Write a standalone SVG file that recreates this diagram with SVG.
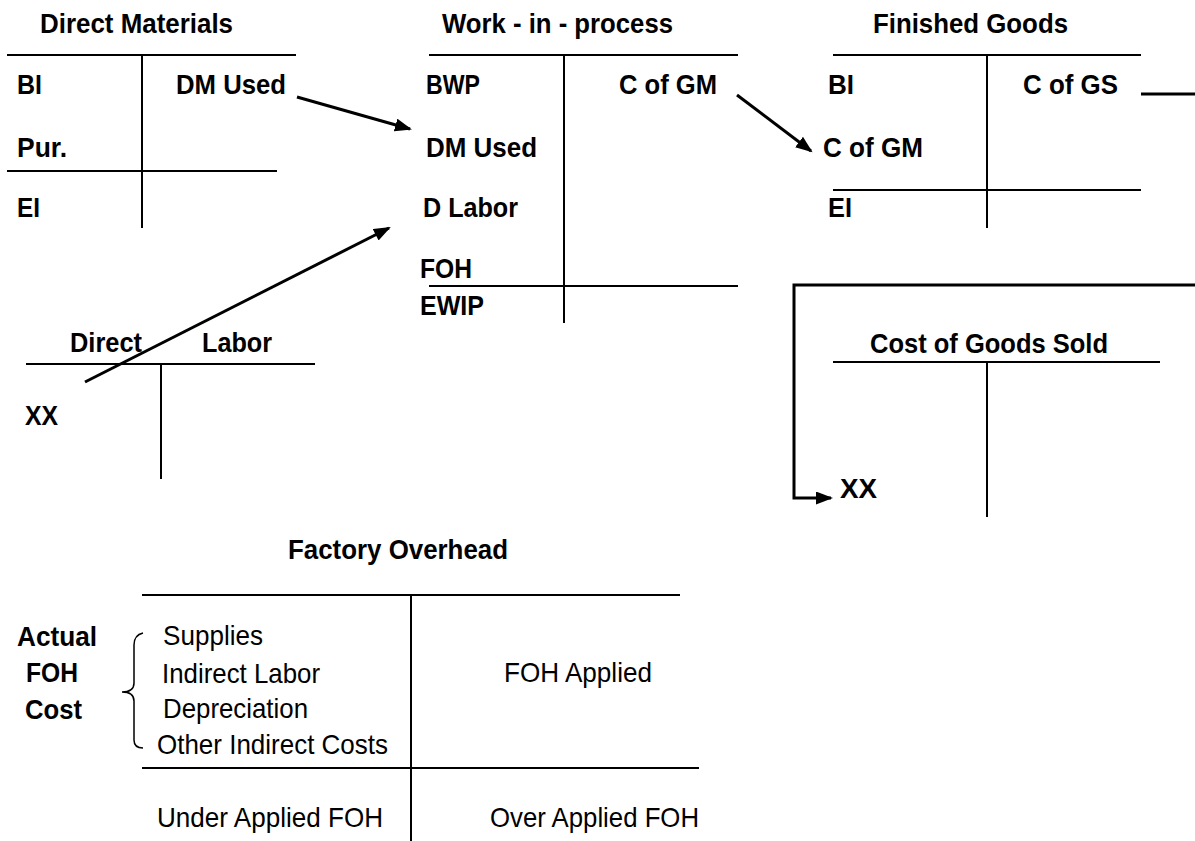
<svg xmlns="http://www.w3.org/2000/svg" width="1195" height="841" viewBox="0 0 1195 841">
<style>
.b{font-family:"Liberation Sans",Arial,sans-serif;font-weight:bold;font-size:28px;fill:#000}
.r{font-family:"Liberation Sans",Arial,sans-serif;font-size:28px;fill:#000}
.t{stroke:#000;stroke-width:2;fill:none}
.a{stroke:#000;stroke-width:3;fill:none}
</style>
<defs>
<marker id="ah" markerUnits="userSpaceOnUse" markerWidth="18" markerHeight="14" refX="15" refY="6.5" orient="auto">
<path d="M0,0 L17,6.5 L0,13 z" fill="#000"/>
</marker>
</defs>
<rect width="1195" height="841" fill="#fff"/>

<g id="direct-materials">
<text class="b" x="40" y="33" textLength="193" lengthAdjust="spacingAndGlyphs">Direct Materials</text>
<line class="t" x1="7" y1="55" x2="296" y2="55"/>
<line class="t" x1="142" y1="55" x2="142" y2="228"/>
<line class="t" x1="7" y1="171" x2="277" y2="171"/>
<text class="b" x="17" y="94" textLength="25" lengthAdjust="spacingAndGlyphs">BI</text>
<text class="b" x="176" y="94" textLength="110" lengthAdjust="spacingAndGlyphs">DM Used</text>
<text class="b" x="17" y="157" textLength="50" lengthAdjust="spacingAndGlyphs">Pur.</text>
<text class="b" x="17" y="217" textLength="23" lengthAdjust="spacingAndGlyphs">EI</text>
</g>

<g id="work-in-process">
<text class="b" x="442" y="33" textLength="231" lengthAdjust="spacingAndGlyphs">Work - in - process</text>
<line class="t" x1="429" y1="55" x2="738" y2="55"/>
<line class="t" x1="564" y1="55" x2="564" y2="323"/>
<line class="t" x1="429" y1="286" x2="738" y2="286"/>
<text class="b" x="426" y="94" textLength="54" lengthAdjust="spacingAndGlyphs">BWP</text>
<text class="b" x="619" y="94" textLength="98" lengthAdjust="spacingAndGlyphs">C of GM</text>
<text class="b" x="426" y="157" textLength="111" lengthAdjust="spacingAndGlyphs">DM Used</text>
<text class="b" x="423" y="217" textLength="95" lengthAdjust="spacingAndGlyphs">D Labor</text>
<text class="b" x="420" y="278" textLength="52" lengthAdjust="spacingAndGlyphs">FOH</text>
<text class="b" x="420" y="315" textLength="64" lengthAdjust="spacingAndGlyphs">EWIP</text>
</g>

<g id="finished-goods">
<text class="b" x="873" y="33" textLength="195" lengthAdjust="spacingAndGlyphs">Finished Goods</text>
<line class="t" x1="833" y1="55" x2="1141" y2="55"/>
<line class="t" x1="987" y1="55" x2="987" y2="228"/>
<line class="t" x1="833" y1="190" x2="1141" y2="190"/>
<text class="b" x="828" y="94" textLength="26" lengthAdjust="spacingAndGlyphs">BI</text>
<text class="b" x="1023" y="94" textLength="95" lengthAdjust="spacingAndGlyphs">C of GS</text>
<text class="b" x="823" y="157" textLength="100" lengthAdjust="spacingAndGlyphs">C of GM</text>
<text class="b" x="828" y="217" textLength="24" lengthAdjust="spacingAndGlyphs">EI</text>
</g>

<g id="direct-labor">
<text class="b" x="70" y="352" textLength="72" lengthAdjust="spacingAndGlyphs">Direct</text>
<text class="b" x="202" y="352" textLength="70" lengthAdjust="spacingAndGlyphs">Labor</text>
<line class="t" x1="26" y1="364" x2="315" y2="364"/>
<line class="t" x1="161" y1="364" x2="161" y2="479"/>
<text class="b" x="25" y="425" textLength="33" lengthAdjust="spacingAndGlyphs">XX</text>
</g>

<g id="cost-of-goods-sold">
<text class="b" x="870" y="353" textLength="238" lengthAdjust="spacingAndGlyphs">Cost of Goods Sold</text>
<line class="t" x1="833" y1="362" x2="1160" y2="362"/>
<line class="t" x1="987" y1="362" x2="987" y2="517"/>
<text class="b" x="840" y="498" textLength="37" lengthAdjust="spacingAndGlyphs">XX</text>
</g>

<g id="factory-overhead">
<text class="b" x="288" y="559" textLength="220" lengthAdjust="spacingAndGlyphs">Factory Overhead</text>
<line class="t" x1="142" y1="595" x2="680" y2="595"/>
<line class="t" x1="411" y1="595" x2="411" y2="841"/>
<line class="t" x1="142" y1="768" x2="699" y2="768"/>
<text class="b" x="17" y="646" textLength="80" lengthAdjust="spacingAndGlyphs">Actual</text>
<text class="b" x="26" y="682" textLength="52" lengthAdjust="spacingAndGlyphs">FOH</text>
<text class="b" x="25" y="719" textLength="57" lengthAdjust="spacingAndGlyphs">Cost</text>
<path d="M143,633 Q134,635 134,645 L134,683 Q134,692 122,692 Q134,692 134,701 L134,740 Q134,748 143,748" fill="none" stroke="#000" stroke-width="1.5"/>
<text class="r" x="163" y="645" textLength="100" lengthAdjust="spacingAndGlyphs">Supplies</text>
<text class="r" x="162" y="683" textLength="158" lengthAdjust="spacingAndGlyphs">Indirect Labor</text>
<text class="r" x="163" y="718" textLength="145" lengthAdjust="spacingAndGlyphs">Depreciation</text>
<text class="r" x="157" y="754" textLength="231" lengthAdjust="spacingAndGlyphs">Other Indirect Costs</text>
<text class="r" x="504" y="682" textLength="148" lengthAdjust="spacingAndGlyphs">FOH Applied</text>
<text class="r" x="157" y="827" textLength="226" lengthAdjust="spacingAndGlyphs">Under Applied FOH</text>
<text class="r" x="490" y="827" textLength="209" lengthAdjust="spacingAndGlyphs">Over Applied FOH</text>
</g>

<g id="connectors">
<line class="a" x1="297" y1="97" x2="410" y2="129" marker-end="url(#ah)"/>
<line class="a" x1="85" y1="382" x2="389" y2="228" marker-end="url(#ah)"/>
<line class="a" x1="737" y1="95" x2="811" y2="151" marker-end="url(#ah)"/>
<line class="a" x1="1141" y1="94" x2="1195" y2="94"/>
<polyline class="a" points="1195,285 794,285 794,498 831,498" marker-end="url(#ah)"/>
</g>
</svg>
